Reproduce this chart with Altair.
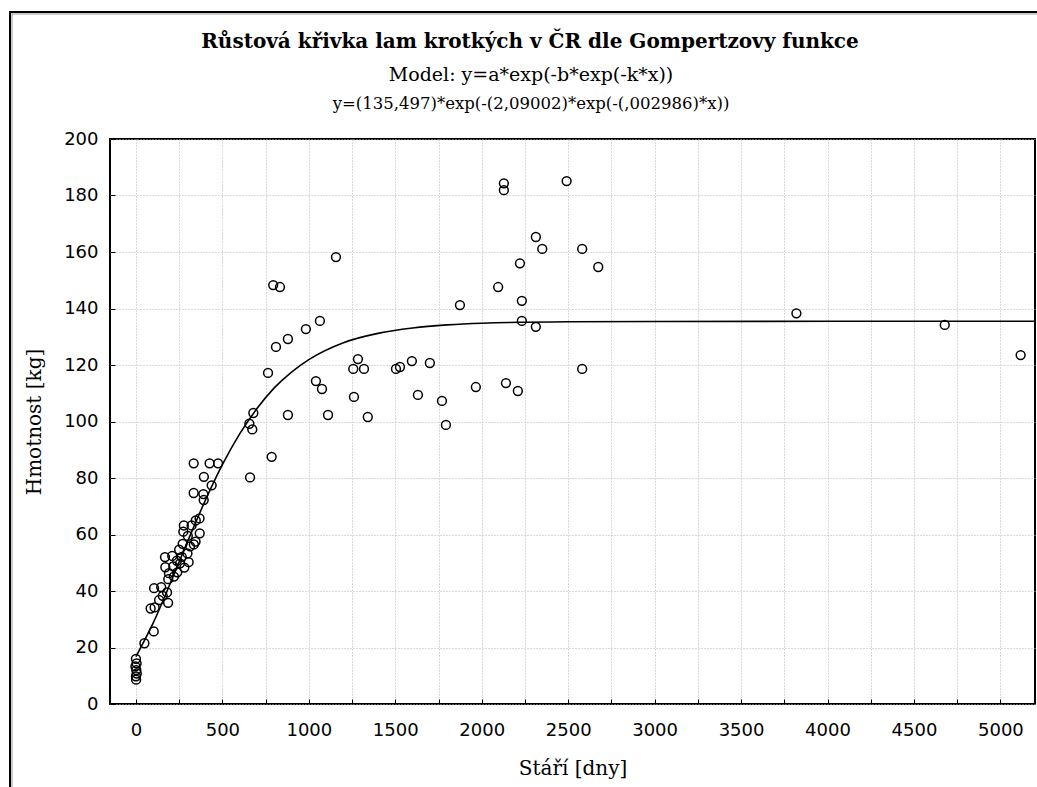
import altair as alt
import pandas as pd

# Observed data: age [days] and weight [kg]
age = [0, 4, -3, 2, 5, 0, 1, 49, 103, 85, 108, 134, 186, 155, 180, 105, 146, 187, 220,
       191, 239, 170, 216, 280, 255, 305, 237, 168, 210, 265, 298, 250, 270, 313, 335,
       345, 300, 369, 274, 277, 322, 346, 368, 392, 334, 390, 438, 393, 334, 426, 475,
       660, 785, 656, 673, 679, 764, 794, 833, 810, 879, 879, 983, 1041, 1064, 1076,
       1111, 1157, 1257, 1261, 1284, 1319, 1341, 1504, 1527, 1596, 1631, 1700, 1770,
       1793, 1874, 1966, 2095, 2128, 2128, 2140, 2209, 2221, 2232, 2232, 2313, 2313,
       2350, 2491, 2581, 2581, 2674, 3820, 4678, 5117]
weight = [16.0, 14.4, 13.3, 12.0, 10.8, 9.8, 8.6, 21.5, 25.7, 33.8, 34.2, 36.8, 35.8,
          38.3, 39.5, 41.0, 41.4, 44.2, 45.1, 46.3, 46.6, 48.4, 48.7, 48.3, 49.8, 50.2,
          50.7, 52.0, 52.4, 52.1, 53.3, 54.6, 56.7, 55.8, 56.5, 57.5, 59.5, 60.4, 61.0,
          63.2, 63.2, 65.0, 65.7, 72.2, 74.7, 74.3, 77.4, 80.4, 85.2, 85.2, 85.2,
          80.2, 87.5, 99.2, 97.2, 103.0, 117.2, 148.3, 147.6, 126.4, 129.2, 102.3,
          132.7, 114.3, 135.6, 111.5, 102.3, 158.2, 118.6, 108.7, 122.1, 118.6, 101.6,
          118.6, 119.3, 121.4, 109.4, 120.7, 107.3, 98.8, 141.2, 112.2, 147.6, 184.3,
          181.9, 113.6, 110.8, 156.0, 142.7, 135.6, 133.5, 165.3, 161.1, 185.1, 161.1,
          118.6, 154.7, 138.3, 134.2, 123.5]

# Fitted Gompertz curve
curve_x = [0, 100, 200, 300, 400, 500, 600, 700, 800, 900, 1000, 1200, 1400, 1600,
           1800, 2000, 2500, 3000, 5200]
curve_y = [16.8, 28.7, 42.9, 57.7, 71.9, 84.7, 95.6, 104.6, 111.9, 117.5, 121.9,
           127.9, 131.2, 133.1, 134.2, 134.8, 135.3, 135.4, 135.5]

title_lines = [
    "Růstová křivka lam krotkých v ČR dle Gompertzovy funkce",
    "Model: y=a*exp(-b*exp(-k*x))",
    "y=(135,497)*exp(-(2,09002)*exp(-(,002986)*x))",
]

pts = pd.DataFrame({"age": age, "weight": weight})
crv = pd.DataFrame({"age": curve_x, "weight": curve_y})

xscale = alt.Scale(domain=[-150, 5200], nice=False, zero=False)
yscale = alt.Scale(domain=[0, 200], nice=False)

xaxis = alt.Axis(
    title="Stáří [dny]", values=list(range(0, 5001, 250)), format="d",
    labelExpr="datum.value % 500 === 0 ? datum.label : ''",
    grid=True, gridColor="#b4b4b4", gridDash=[1, 2], gridWidth=1,
    domain=False, offset=-5, tickSize=5, tickColor="black", tickWidth=1,
    labelFont="DejaVu Sans", labelFontSize=18, labelColor="black", labelPadding=17,
    labelOverlap=False, labelFlush=False,
    titleFont="DejaVu Serif", titleFontSize=20, titleFontWeight="normal",
    titleColor="black", titlePadding=19,
)
yaxis = alt.Axis(
    title="Hmotnost [kg]", values=list(range(0, 201, 20)),
    grid=True, gridColor="#b4b4b4", gridDash=[1, 2], gridWidth=1,
    domain=False, offset=-5, tickSize=5, tickColor="black", tickWidth=1,
    labelFont="DejaVu Sans", labelFontSize=18, labelColor="black", labelPadding=12,
    labelOverlap=False, labelFlush=False,
    titleFont="DejaVu Serif", titleFontSize=20, titleFontWeight="normal",
    titleColor="black", titlePadding=19,
)

points = alt.Chart(pts).mark_point(
    shape="circle", filled=False, color="black", size=78, strokeWidth=1.5, opacity=1
).encode(
    x=alt.X("age:Q", scale=xscale, axis=xaxis),
    y=alt.Y("weight:Q", scale=yscale, axis=yaxis),
)

curve = alt.Chart(crv).mark_line(color="black", strokeWidth=1.6, interpolate="monotone").encode(
    x=alt.X("age:Q", scale=xscale),
    y=alt.Y("weight:Q", scale=yscale),
)

one = pd.DataFrame({"k": [0]})
t1 = alt.Chart(one).mark_text(
    text=title_lines[0], font="DejaVu Serif", fontSize=20, fontWeight="bold",
    color="black", align="center", baseline="middle"
).encode(x=alt.value(420), y=alt.value(-97))
t2 = alt.Chart(one).mark_text(
    text=title_lines[1], font="DejaVu Serif", fontSize=19,
    color="black", align="center", baseline="middle"
).encode(x=alt.value(421), y=alt.value(-64))
t3 = alt.Chart(one).mark_text(
    text=title_lines[2], font="DejaVu Serif", fontSize=16.5,
    color="black", align="center", baseline="middle"
).encode(x=alt.value(421), y=alt.value(-35))

border_left = alt.Chart(one).mark_rule(color="black", strokeWidth=2).encode(
    x=alt.value(-100), y=alt.value(-128), y2=alt.value(660))
border_top = alt.Chart(one).mark_rule(color="black", strokeWidth=2).encode(
    x=alt.value(-101), x2=alt.value(930), y=alt.value(-127))
border_left2 = alt.Chart(one).mark_rule(color="#b8b8b8", strokeWidth=1.5).encode(
    x=alt.value(-98), y=alt.value(-126), y2=alt.value(660))
border_top2 = alt.Chart(one).mark_rule(color="#b8b8b8", strokeWidth=1.5).encode(
    x=alt.value(-98), x2=alt.value(930), y=alt.value(-125))

chart = alt.layer(
    points, curve, t1, t2, t3, border_left2, border_top2, border_left, border_top
).properties(
    width=925, height=565,
    padding={"left": 110, "top": 139, "right": 2, "bottom": 83},
    autosize=alt.AutoSizeParams(type="none"),
    background="white",
).configure_view(stroke="black", strokeWidth=2)

chart.save("out.html", embed_options={"renderer": "svg", "actions": False})
